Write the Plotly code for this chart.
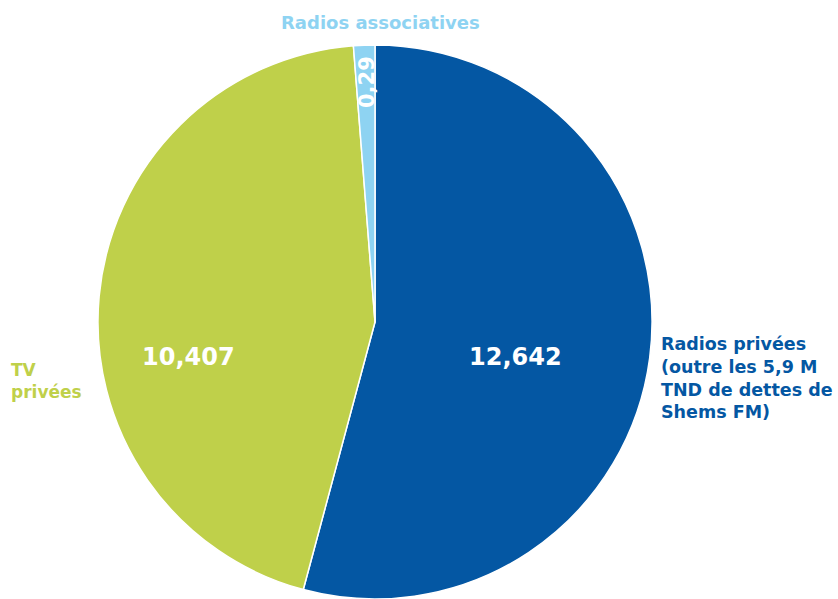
import plotly.graph_objects as go

# Slice data (millions TND)
categories = ["Radios privées (outre les 5,9 M TND de dettes de Shems FM)",
              "TV privées",
              "Radios associatives"]
values = [12.642, 10.407, 0.29]
colors = ["#0457A3", "#BFD04A", "#8ED3F2"]

W, H = 838, 599
FONT = "DejaVu Sans"


def fmt(v):
    return f"{v:g}".replace(".", ",")


def px(x, y):
    """Pixel position (from top-left) -> paper coordinates."""
    return x / W, 1 - y / H


fig = go.Figure(go.Pie(
    labels=categories,
    values=values,
    sort=False,
    direction="clockwise",
    rotation=0,
    marker=dict(colors=colors, line=dict(color="white", width=1.5)),
    textinfo="none",
    hoverinfo="label+value",
    showlegend=False,
    domain=dict(x=[97 / W, 653 / W], y=[0, 0.925]),
))

annotations = []

# values inside the slices
value_spots = [(515, 357, 0, 24), (188, 357, 0, 24), (367, 82, -90, 21)]
for v, (x, y, ang, size) in zip(values, value_spots):
    ax, ay = px(x, y)
    annotations.append(dict(
        x=ax, y=ay, xref="paper", yref="paper", text=f"<b>{fmt(v)}</b>",
        showarrow=False, textangle=ang, xanchor="center", yanchor="middle",
        font=dict(family=FONT, size=size, color="white"),
    ))

# category labels outside the pie
label_texts = ["Radios privées<br>(outre les 5,9 M<br>TND de dettes de<br>Shems FM)",
               "TV<br>privées",
               "Radios associatives"]
label_spots = [(659, 378, "left", 17.5), (9, 381, "left", 17), (380, 23, "center", 18)]
for txt, c, (x, y, anc, size) in zip(label_texts, colors, label_spots):
    ax, ay = px(x, y)
    annotations.append(dict(
        x=ax, y=ay, xref="paper", yref="paper", text=f"<b>{txt}</b>",
        showarrow=False, xanchor=anc, yanchor="middle", align="left",
        font=dict(family=FONT, size=size, color=c),
    ))

fig.update_layout(
    width=W, height=H,
    margin=dict(l=0, r=0, t=0, b=0),
    paper_bgcolor="white", plot_bgcolor="white",
    annotations=annotations,
)

fig.write_html("out.html")
